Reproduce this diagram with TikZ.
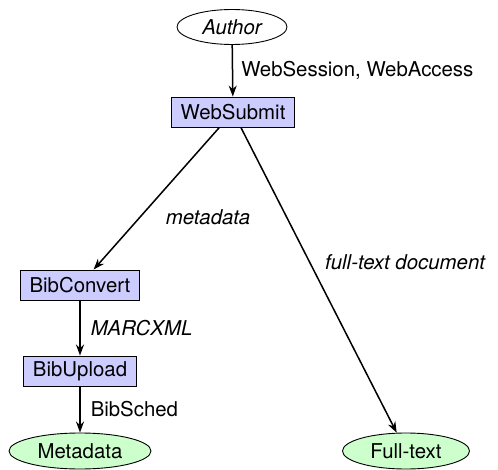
\documentclass[tikz,border=0pt]{standalone}
\usepackage{fontspec}
\setmainfont{TeX Gyre Heros}
\usetikzlibrary{shapes.geometric}
\usetikzlibrary{arrows.meta}
\definecolor{modfill}{RGB}{204,204,255}
\definecolor{storefill}{RGB}{204,255,204}
\newcommand{\rnka}{27}
\newcommand{\rnkb}{112}
\newcommand{\rnkc}{285}
\newcommand{\rnkd}{371}
\newcommand{\rnke}{451}

\begin{document}
\begin{tikzpicture}[x=1pt,y=-1pt,font=\fontsize{20.4}{24}\selectfont,
    modbox/.style={draw,fill=modfill,line width=0.9pt,minimum height=30pt,inner xsep=9pt},
    store/.style={ellipse,draw,fill=storefill,line width=0.9pt,minimum height=36pt},
    flow/.style={-{Stealth[length=11pt,width=8pt]},line width=1.5pt},
    lbl/.style={inner sep=0pt}]

    \useasboundingbox (0,0) rectangle (498,470);

    \node [ellipse,draw,line width=0.9pt,minimum width=110pt,minimum height=35pt,
      font=\fontsize{20.4}{24}\selectfont\itshape] (author) at (232,\rnka) {Author};
    \node [modbox] (websubmit) at (233,\rnkb) {WebSubmit};
    \node [modbox] (bibconvert) at (80,\rnkc) {BibConvert};
    \node [modbox] (bibupload) at (80,\rnkd) {BibUpload};
    \node [store,minimum width=142pt] (metadata) at (80,\rnke) {Metadata};
    \node [store,minimum width=127pt] (fulltext) at (406,\rnke) {Full-text};

    \draw [flow] (author) -- node [lbl,right=8pt] {WebSession, WebAccess} (websubmit);
    \draw [flow] (websubmit) -- node [lbl,pos=0.63,right=25pt] {\itshape metadata} (bibconvert);
    \draw [flow] (websubmit) -- node [lbl,pos=0.44,right=15pt] {\itshape full-text document} (fulltext);
    \draw [flow] (bibconvert) -- node [lbl,right=10pt] {\itshape MARCXML} (bibupload);
    \draw [flow] (bibupload) -- node [lbl,right=10pt] {BibSched} (metadata);

  \end{tikzpicture}
\end{document}
